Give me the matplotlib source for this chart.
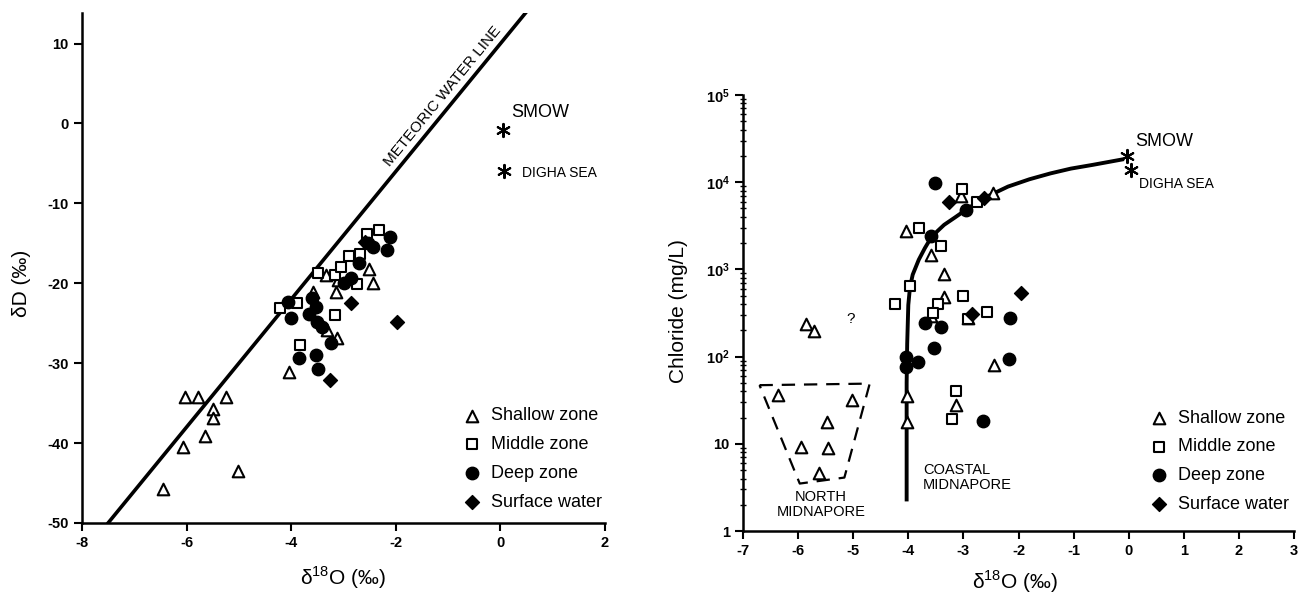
# Isotope plots: dD vs d18O and chloride vs d18O for Midnapore groundwaters

import math
import matplotlib
matplotlib.use("Agg")
from matplotlib import pyplot as plt

plt.rcParams['font.family'] = ['Liberation Sans', 'DejaVu Sans']
plt.rcParams['mathtext.fontset'] = 'custom'
plt.rcParams['mathtext.rm'] = 'Liberation Sans'
plt.rcParams['mathtext.bf'] = 'Liberation Sans:bold'
plt.rcParams['axes.unicode_minus'] = False

# -----------------------------------------------------------------------------
# Data : left panel (d18O, dD)

shallow_o = [-6.03, -5.79, -5.25, -5.50, -5.49, -5.64, -6.07, -5.02, -6.45,
             -4.05, -3.58, -3.34, -3.14, -3.10, -2.51, -2.43, -3.32, -3.12]
shallow_d = [-34.3, -34.2, -34.3, -35.7, -36.9, -39.1, -40.5, -43.5, -45.8,
             -31.1, -21.1, -19.0, -21.1, -19.6, -18.2, -20.0, -25.8, -26.9]

middle_o = [-4.22, -3.89, -3.84, -3.49, -3.17, -3.05, -3.17, -2.90, -2.69,
            -2.74, -2.55, -2.32]
middle_d = [-23.1, -22.5, -27.7, -18.7, -19.0, -18.0, -24.0, -16.6, -16.4,
            -20.1, -13.9, -13.3]

deep_o = [-4.07, -4.01, -3.61, -3.53, -3.66, -3.51, -3.42, -3.23, -3.86,
          -3.53, -3.48, -2.99, -2.86, -2.70, -2.54, -2.43, -2.12, -2.16]
deep_d = [-22.3, -24.3, -21.9, -23.0, -23.8, -24.8, -25.5, -27.5, -29.3,
          -29.0, -30.7, -20.0, -19.4, -17.5, -15.0, -15.5, -14.2, -15.9]

surface_o = [-2.86, -1.97, -3.26, -2.58]
surface_d = [-22.5, -24.8, -32.1, -14.8]

smow_left = (0.05, -0.8)
digha_left = (0.07, -6.0)

# meteoric water line end points (dD = 8 d18O + 10)
mwl_o = [-7.5, 0.49]
mwl_d = [-50.0, 13.9]

# -----------------------------------------------------------------------------
# Data : right panel (d18O, chloride mg/L)

cl_shallow_o = [-5.85, -5.71, -6.36, -5.02, -5.48, -5.95, -5.46, -5.62,
                -4.02, -4.02, -4.05, -3.59, -3.35, -3.35, -3.58, -3.04,
                -2.46, -2.44, -3.13, -2.91]
cl_shallow_c = [234, 195, 36, 31.6, 17.8, 9.2, 9.0, 4.6,
                35, 17.8, 2760, 1480, 890, 480, 290, 6900,
                7600, 81, 27.6, 275]

cl_middle_o = [-4.24, -3.97, -3.81, -3.41, -3.47, -3.55, -3.03, -2.75,
               -3.01, -2.92, -2.57, -3.13, -3.21]
cl_middle_c = [400, 650, 3000, 1830, 400, 316, 8300, 6000,
               490, 270, 325, 40, 19]

cl_deep_o = [-3.52, -3.59, -2.96, -3.69, -3.41, -3.54, -4.04, -4.04,
             -3.83, -2.15, -2.17, -2.65]
cl_deep_c = [9800, 2400, 4800, 240, 218, 125, 100, 76,
             87, 280, 93, 18.2]

cl_surface_o = [-3.27, -2.62, -1.96, -2.85]
cl_surface_c = [5900, 6600, 540, 310]

smow_right = (-0.04, 20000)
digha_right = (0.04, 13800)

# mixing curve
mix_o = [-4.03, -4.03, -4.03, -4.02, -4.0, -3.97, -3.92, -3.81, -3.70,
         -3.59, -3.47, -3.35, -3.15, -2.96, -2.62, -2.19, -1.80, -1.42,
         -1.05, -0.65, -0.12]
mix_c = [2.3, 10, 50, 140, 390, 620, 870, 1290, 1750,
         2290, 2750, 3240, 3950, 4790, 6600, 8900, 10800, 12600,
         14300, 15800, 18200]

# north Midnapore dashed outline
north_o = [-6.70, -4.70, -5.16, -5.97, -6.70]
north_c = [47, 49, 4.1, 3.5, 47]

legend_labels = ['Shallow zone', 'Middle zone', 'Deep zone', 'Surface water']

# -----------------------------------------------------------------------------
# Code

fig = plt.figure(figsize=(13.12, 5.99), dpi=100)
ax1 = fig.add_axes([0.0625, 0.127, 0.3986, 0.851])
ax2 = fig.add_axes([0.5663, 0.1135, 0.42, 0.728])


def style_axes(ax):
    for side in ['top', 'right']:
        ax.spines[side].set_visible(False)
    for side in ['left', 'bottom']:
        ax.spines[side].set_linewidth(1.8)
    ax.tick_params(which='major', direction='out', length=6, width=1.5,
                   labelsize=10.5)
    for lab in ax.get_xticklabels() + ax.get_yticklabels():
        lab.set_fontweight('bold')


def draw_points(ax, groups):
    styles = [dict(marker='^', s=70, facecolors='white', edgecolors='black', linewidths=1.5),
              dict(marker='s', s=55, facecolors='white', edgecolors='black', linewidths=1.5),
              dict(marker='o', s=80, facecolors='black', edgecolors='black', linewidths=1.0),
              dict(marker='D', s=50, facecolors='black', edgecolors='black', linewidths=1.0)]
    for (xs, ys), label, st in zip(groups, legend_labels, styles):
        ax.scatter(xs, ys, label=label, zorder=3, **st)


# ---- left panel
ax1.plot(mwl_o, mwl_d, color='black', lw=2.6, zorder=2)
draw_points(ax1, [(shallow_o, shallow_d), (middle_o, middle_d),
                  (deep_o, deep_d), (surface_o, surface_d)])
ax1.scatter(*smow_left, marker=(6, 2, 0), s=90, color='black', linewidths=1.5)
ax1.scatter(*digha_left, marker=(6, 2, 0), s=90, color='black', linewidths=1.5)
ax1.text(0.21, 1.4, 'SMOW', fontsize=13, va='center', ha='left')
ax1.text(0.41, -6.24, 'DIGHA SEA', fontsize=10, va='center', ha='left')

ax1.set_xlim(-8, 2)
ax1.set_ylim(-50, 13.8)
ax1.set_xticks([-8, -6, -4, -2, 0, 2])
ax1.set_yticks([10, 0, -10, -20, -30, -40, -50])
style_axes(ax1)

# angle of the meteoric water line on screen
p1 = ax1.transData.transform((-2, -6))
p2 = ax1.transData.transform((0, 10))
angle = math.degrees(math.atan2(p2[1] - p1[1], p2[0] - p1[0]))
ax1.text(-1.10, 3.4, 'METEORIC WATER LINE', fontsize=11, rotation=angle,
         rotation_mode='anchor', ha='center', va='center')

ax1.set_xlabel('δ$^{18}$O (‰)', fontsize=15)
ax1.set_ylabel('δD (‰)', fontsize=15)
ax1.xaxis.set_label_coords(0.499, -0.082)
ax1.yaxis.set_label_coords(-0.0975, 0.469)
ax1.legend(loc='lower left', bbox_to_anchor=(0.714, 0.01), frameon=False,
           fontsize=13, handlelength=1.0, handletextpad=0.55,
           labelspacing=0.65, borderaxespad=0)

# ---- right panel
ax2.set_yscale('log')
ax2.plot(mix_o, mix_c, color='black', lw=2.8, zorder=2)
ax2.plot(north_o, north_c, color='black', lw=1.6, ls=(0, (6, 4)), zorder=2)
draw_points(ax2, [(cl_shallow_o, cl_shallow_c), (cl_middle_o, cl_middle_c),
                  (cl_deep_o, cl_deep_c), (cl_surface_o, cl_surface_c)])
ax2.scatter(*smow_right, marker=(6, 2, 0), s=90, color='black', linewidths=1.5)
ax2.scatter(*digha_right, marker=(6, 2, 0), s=90, color='black', linewidths=1.5)
ax2.text(0.115, 29500, 'SMOW', fontsize=13, va='center', ha='left')
ax2.text(0.19, 9500, 'DIGHA SEA', fontsize=10, va='center', ha='left')
ax2.text(-5.05, 270, '?', fontsize=11, ha='center', va='center')
ax2.text(-5.58, 2.0, 'NORTH\nMIDNAPORE', fontsize=10.5, ha='center',
         va='center', linespacing=1.05)
ax2.text(-3.73, 4.1, 'COASTAL\nMIDNAPORE', fontsize=10.5, ha='left',
         va='center', linespacing=1.05)

ax2.set_xlim(-7, 3)
ax2.set_ylim(1, 1e5)
ax2.set_xticks(range(-7, 4))
ax2.set_yticks([1, 10, 1e2, 1e3, 1e4, 1e5])
ax2.set_yticklabels(['1', '10', r'$\mathbf{10^2}$', r'$\mathbf{10^3}$',
                     r'$\mathbf{10^4}$', r'$\mathbf{10^5}$'])
style_axes(ax2)
ax2.tick_params(which='minor', direction='inout', length=4, width=1.0)

ax2.set_xlabel('δ$^{18}$O (‰)', fontsize=15)
ax2.set_ylabel('Chloride (mg/L)', fontsize=15)
ax2.xaxis.set_label_coords(0.494, -0.085)
ax2.yaxis.set_label_coords(-0.10, 0.505)
ax2.legend(loc='lower left', bbox_to_anchor=(0.725, 0.025), frameon=False,
           fontsize=13, handlelength=1.0, handletextpad=0.55,
           labelspacing=0.65, borderaxespad=0)

fig.savefig('out.png', dpi=100)
